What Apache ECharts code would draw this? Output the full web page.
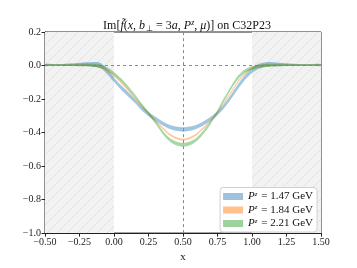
<!DOCTYPE html>
<html><head><meta charset="utf-8">
<script src="https://cdn.jsdelivr.net/npm/echarts@6/dist/echarts.min.js"></script>
<style>html,body{margin:0;padding:0;background:#fff}#c{width:357px;height:268px}</style>
</head><body><div id="c"></div>
<script>
const xs = [-0.5,-0.45,-0.4,-0.35,-0.3,-0.25,-0.2,-0.15,-0.1,-0.05,0,0.05,0.1,0.15,0.2,0.25,0.3,0.35,0.4,0.45,0.5,0.55,0.6,0.65,0.7,0.75,0.8,0.85,0.9,0.95,1.0,1.05,1.1,1.15,1.2,1.25,1.3,1.35,1.4,1.45,1.5];
const blueMid = [0.003,0.003,0.003,0.004,0.005,0.006,0.007,0.006,0.0,-0.035,-0.085,-0.13,-0.17,-0.21,-0.255,-0.29,-0.318,-0.345,-0.365,-0.377,-0.382,-0.377,-0.365,-0.345,-0.318,-0.285,-0.24,-0.185,-0.125,-0.07,-0.03,-0.005,0.006,0.008,0.006,0.005,0.004,0.003,0.003,0.003,0.003];
const blueHalf = [0.006,0.006,0.006,0.007,0.008,0.01,0.012,0.015,0.016,0.015,0.014,0.013,0.013,0.012,0.012,0.012,0.012,0.012,0.012,0.013,0.013,0.013,0.012,0.012,0.012,0.012,0.012,0.013,0.014,0.015,0.015,0.015,0.014,0.012,0.01,0.008,0.007,0.006,0.006,0.006,0.006];
const orangeMid = [0.002,0.002,0.002,0.002,0.002,0.002,0.002,0.0,-0.008,-0.03,-0.06,-0.1,-0.145,-0.195,-0.24,-0.285,-0.33,-0.372,-0.41,-0.432,-0.442,-0.432,-0.41,-0.372,-0.33,-0.28,-0.22,-0.158,-0.095,-0.045,-0.015,-0.003,0.0,0.001,0.002,0.002,0.002,0.002,0.002,0.002,0.002];
const orangeHalf = [0.004,0.004,0.004,0.004,0.004,0.005,0.005,0.006,0.006,0.006,0.006,0.006,0.006,0.006,0.006,0.006,0.006,0.006,0.006,0.006,0.006,0.006,0.006,0.006,0.006,0.006,0.006,0.006,0.006,0.006,0.006,0.006,0.006,0.005,0.005,0.004,0.004,0.004,0.004,0.004,0.004];
const greenMid = [0.003,0.003,0.003,0.003,0.003,0.004,0.004,0.002,-0.004,-0.02,-0.048,-0.085,-0.13,-0.18,-0.235,-0.285,-0.338,-0.395,-0.44,-0.465,-0.473,-0.465,-0.44,-0.395,-0.34,-0.275,-0.2,-0.13,-0.07,-0.032,-0.015,-0.005,0.0,0.002,0.003,0.003,0.003,0.003,0.003,0.003,0.003];
const greenHalf = [0.005,0.005,0.005,0.006,0.006,0.007,0.008,0.009,0.01,0.01,0.01,0.01,0.01,0.01,0.01,0.01,0.01,0.01,0.01,0.011,0.011,0.011,0.01,0.01,0.01,0.01,0.01,0.01,0.01,0.01,0.01,0.01,0.009,0.008,0.007,0.006,0.006,0.005,0.005,0.005,0.005];
const seriesNames = ['1.47','1.84','2.21'];
const seriesColors = ['rgba(31,119,180,0.42)','rgba(255,127,14,0.42)','rgba(44,160,44,0.42)'];
const legendColors = ['#9ec2de','#ffc08b','#9dd29d'];

const FONT = 'Liberation Serif';
const pc = document.createElement('canvas');
pc.width = 10; pc.height = 10;
const g = pc.getContext('2d');
g.fillStyle = '#f2f2f2'; g.fillRect(0,0,10,10);
g.strokeStyle = '#e2e2e2'; g.lineWidth = 1;
g.beginPath(); g.moveTo(0,10); g.lineTo(10,0); g.moveTo(-5,5); g.lineTo(5,-5); g.moveTo(5,15); g.lineTo(15,5); g.stroke();

const mids = [blueMid, orangeMid, greenMid];
const halves = [blueHalf, orangeHalf, greenHalf];
const series = [];
series.push({
  type:'line', name:'_bg', data: [[-0.5,0],[1.5,0]], showSymbol:false, silent:true, z:1,
  lineStyle:{opacity:0},
  markArea:{silent:true, itemStyle:{color:{image:pc, repeat:'repeat'}},
    data:[[{xAxis:-0.5},{xAxis:0}],[{xAxis:1},{xAxis:1.5}]]},
  markLine:{silent:true, symbol:'none', label:{show:false},
    lineStyle:{color:'#8a8a8a', type:[3,3], width:1},
    data:[{yAxis:0},{xAxis:0.5}]}
});
const legendNames = [];
mids.forEach((m,i)=>{
  const h = halves[i];
  const nm = 'P^z = '+seriesNames[i]+' GeV';
  legendNames.push({name:nm, itemStyle:{color:legendColors[i]}});
  series.push({type:'custom', name:nm, silent:true, z:3+i, color:legendColors[i],
    data:[[0.5, m[20]]],
    renderItem:(params, api)=>{
      const up = xs.map((x,k)=>api.coord([x, m[k]+h[k]]));
      const lo = xs.map((x,k)=>api.coord([x, m[k]-h[k]])).reverse();
      return {type:'polygon', shape:{points: up.concat(lo), smooth:0.3},
        style:{fill:seriesColors[i], stroke:null}};
    }
  });
});

const fmtMinus = s => s.replace('-', '\u2212');
const chart = echarts.init(document.getElementById('c'), null, {renderer:'canvas'});
chart.setOption({
  animation:false,
  backgroundColor:'#fff',
  title:{
    left:182, top:14, textAlign:'center',
    text:'{n|Im[}{i|f\u0303}{n|(}{i|x}{n|, }{i|b}{d|\u22A5}{n| = 3}{i|a}{n|, }{i|P}{s|z}{n|, }{i|\u03BC}{n|)] on C32P23}',
    textStyle:{fontWeight:'normal', rich:{
      n:{fontFamily:FONT, fontSize:12, fontWeight:'normal', color:'#111'},
      i:{fontFamily:FONT, fontSize:12, fontWeight:'normal', fontStyle:'italic', color:'#111'},
      s:{fontFamily:FONT, fontSize:8, fontWeight:'normal', fontStyle:'italic', color:'#111', padding:[0,0,6,0]},
      d:{fontFamily:FONT, fontSize:8, fontWeight:'normal', color:'#111', padding:[5,0,0,1]}
    }}
  },
  grid:{left:45, right:36, top:32, bottom:29, show:true, borderColor:'#222', borderWidth:1, backgroundColor:'transparent'},
  legend:{
    orient:'vertical', right:40, bottom:36, itemWidth:20, itemHeight:7, itemGap:2,
    icon:'rect', backgroundColor:'#fff', borderColor:'#d0d0d0', borderWidth:1, borderRadius:3,
    padding:[3,4,3,3],
    data: legendNames,
    formatter: n => '{i|P}{s|z}{n| = ' + n.split('= ')[1] + '}',
    textStyle:{rich:{
      n:{fontFamily:FONT, fontSize:11, color:'#111'},
      i:{fontFamily:FONT, fontSize:11, fontStyle:'italic', color:'#111'},
      s:{fontFamily:FONT, fontSize:7, fontStyle:'italic', color:'#111', padding:[0,1,5,0]}
    }}
  },
  xAxis:{type:'value', min:-0.5, max:1.5, interval:0.25,
    name:'x', nameLocation:'middle', nameGap:17,
    nameTextStyle:{fontFamily:FONT, fontSize:11, color:'#111'},
    axisLine:{show:true, onZero:false, lineStyle:{color:'#222'}},
    axisTick:{show:true, length:3.5, lineStyle:{color:'#222'}},
    splitLine:{show:false},
    axisLabel:{fontFamily:FONT, fontSize:10, color:'#222', margin:4,
      formatter:v=>fmtMinus(v.toFixed(2))}
  },
  yAxis:{type:'value', min:-1.0, max:0.2, interval:0.2,
    axisLine:{show:true, onZero:false, lineStyle:{color:'#222'}},
    axisTick:{show:true, length:3.5, lineStyle:{color:'#222'}},
    splitLine:{show:false},
    axisLabel:{fontFamily:FONT, fontSize:10, color:'#222', margin:4,
      formatter:v=>fmtMinus(v.toFixed(1))}
  },
  series: series
});
</script></body></html>
